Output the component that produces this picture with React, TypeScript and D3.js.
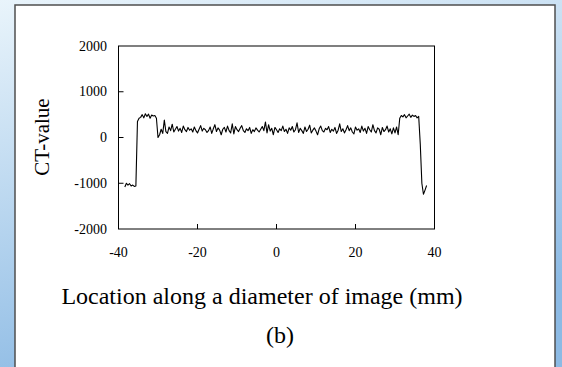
import React from "react";
import * as d3 from "d3";

// Profile sampled from x = -38.4 mm in steps of 0.4 mm
const startLocation = -38.4;
const stepMm = 0.4;

const leftAir = [-1080, -1000, -1040, -1010, -1060, -1040, -1070, -1060];
const leftRim = [350, 420, 440, 500, 430, 520, 460, 510, 420, 490, 470, 480, 420];
const interior = [
  0, 60, 180, 90, 380, 130,
  90, 230, 150, 290, 120, 180, 240, 140, 200, 110,
  250, 170, 130, 220, 160, 190, 120, 230, 150, 100,
  180, 260, 140, 200, 170, 110, 150, 230, 90, 190,
  280, 130, 210, 160, 60, 180, 220, 120, 250, 150,
  100, 300, 80, 240, 170, 130, 200, 260, 150, 110,
  190, 150, 220, 90, 170, 130, 210, 160, 120, 180,
  240, 150, 340, 100, 280, 140, 200, 60, 220, 170,
  110, 190, 150, 250, 130, 180, 90, 210, 160, 240,
  120, 170, 320, 110, 200, 150, 90, 230, 130, 180,
  270, 100, 160, 210, 140, 60, 190, 250, 150, 120,
  200, 170, 240, 110, 180, 140, 220, 90, 160, 300,
  130, 190, 100, 170, 260, 150, 210, 120, 80, 230,
  160, 190, 110, 250, 140, 200, 90, 240, 170, 120,
  280, 150, 100, 210, 180, 60, 220, 130, 170, 250,
  120, 190, 80, 210, 100, 230, 60,
];
const rightRim = [420, 480, 450, 500, 430, 470, 510, 440, 490, 460, 480, 430, 460];
const rightAir = [-150, -1000, -1240, -1150, -1050];

const xTicks = [-40, -20, 0, 20, 40];
const yTicks = [2000, 1000, 0, -1000, -2000];

const ctValues = [...leftAir, ...leftRim, ...interior, ...rightRim, ...rightAir];
const profile = ctValues.map((v, i) => ({ x: startLocation + i * stepMm, y: v }));

const W = 562;
const H = 367;
const FONT = "'Liberation Serif', 'Times New Roman', serif";

export default function App() {
  const plot = { left: 118.5, right: 434.5, top: 46, bottom: 229 };
  const x = d3.scaleLinear().domain([-40, 40]).range([plot.left, plot.right]);
  const y = d3.scaleLinear().domain([-2000, 2000]).range([plot.bottom, plot.top]);
  const line = d3
    .line<{ x: number; y: number }>()
    .x((d) => x(d.x))
    .y((d) => y(d.y));

  return (
    <div style={{ position: "fixed", left: 0, top: 0 }}>
      <svg width={W} height={H} style={{ display: "block" }}>
        <defs>
          <linearGradient id="bg" x1="0" y1="0" x2="0.35" y2="1">
            <stop offset="0" stopColor="#e9f4fb" />
            <stop offset="1" stopColor="#8cbae4" />
          </linearGradient>
        </defs>
        <rect x={0} y={0} width={W} height={H} fill="url(#bg)" />
        <rect x={15} y={5} width={540} height={400} fill="#ffffff" stroke="#4f4f4f" strokeWidth={1.5} />

        {/* plot frame */}
        <rect
          x={plot.left}
          y={plot.top}
          width={plot.right - plot.left}
          height={plot.bottom - plot.top}
          fill="none"
          stroke="#000"
          strokeWidth={1}
        />
        {xTicks.slice(1, -1).map((t) => (
          <line key={"xt" + t} x1={x(t)} x2={x(t)} y1={plot.bottom} y2={plot.bottom - 5} stroke="#000" strokeWidth={1} />
        ))}
        {yTicks.slice(1, -1).map((t) => (
          <line key={"yt" + t} x1={plot.left} x2={plot.left + 5} y1={y(t)} y2={y(t)} stroke="#000" strokeWidth={1} />
        ))}
        {xTicks.map((t) => (
          <text key={"xl" + t} x={x(t)} y={257} textAnchor="middle" fontFamily={FONT} fontSize={14} fill="#000">
            {t}
          </text>
        ))}
        {yTicks.map((t) => (
          <text key={"yl" + t} x={107} y={y(t) + 4.5} textAnchor="end" fontFamily={FONT} fontSize={14} fill="#000">
            {t}
          </text>
        ))}

        <path d={line(profile) || ""} fill="none" stroke="#000" strokeWidth={1.1} strokeLinejoin="round" />

        <text
          transform={`translate(49,137) rotate(-90)`}
          textAnchor="middle"
          fontFamily={FONT}
          fontSize={21}
          fill="#000"
        >
          CT-value
        </text>
        <text x={262} y={304} textAnchor="middle" fontFamily={FONT} fontSize={24} fill="#000">
          Location along a diameter of image (mm)
        </text>
        <text x={280} y={343} textAnchor="middle" fontFamily={FONT} fontSize={24} fill="#000">
          (b)
        </text>
      </svg>
    </div>
  );
}
